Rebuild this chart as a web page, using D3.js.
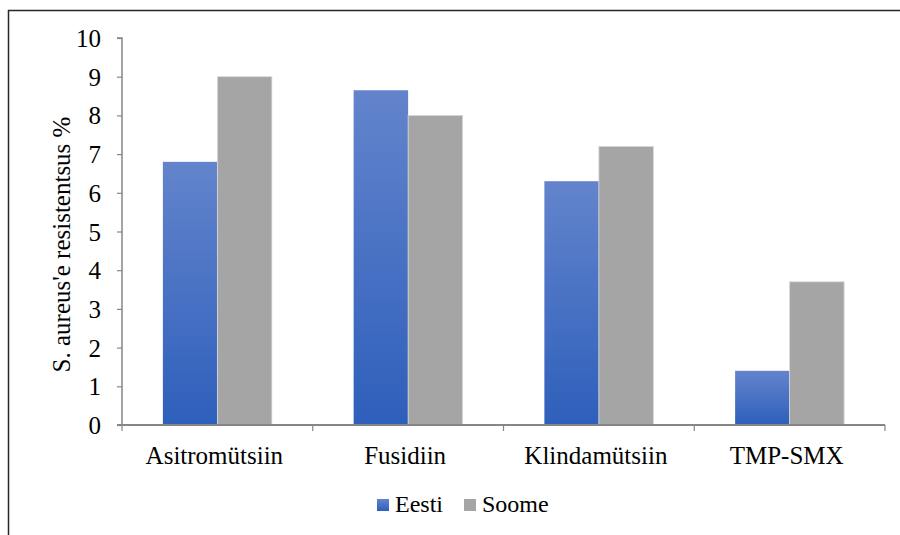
<!DOCTYPE html>
<html>
<head>
<meta charset="utf-8">
<script src="https://cdn.jsdelivr.net/npm/d3@7"></script>
</head>
<body style="margin:0">
<svg id="chart" width="900" height="535"></svg>
<script>
// Antibiotic resistance of S. aureus, Estonia vs Finland (%)
const categories = ["Asitromütsiin", "Fusidiin", "Klindamütsiin", "TMP-SMX"];
const seriesNames = ["Eesti", "Soome"];
const eestiValues = [6.8, 8.65, 6.3, 1.4];
const soomeValues = [9.0, 8.0, 7.2, 3.7];
const yTicks = [0, 1, 2, 3, 4, 5, 6, 7, 8, 9, 10];
const yTitle = "S. aureus'e resistentsus %";

const FONT = `"Liberation Serif"`;
const svg = d3.select("#chart");
const margin = { left: 122, right: 885, top: 38, bottom: 425 };

const x = d3.scaleBand().domain(categories).range([margin.left, margin.right]).padding(0);
const sub = d3.scaleBand().domain(seriesNames)
  .range([0, x.bandwidth()]).paddingInner(0).paddingOuter(0.75);
const y = d3.scaleLinear().domain([0, 10]).range([margin.bottom, margin.top]);

// gradients
const defs = svg.append("defs");
const blue = defs.append("linearGradient").attr("id", "blueGrad")
  .attr("x1", 0).attr("y1", 0).attr("x2", 0).attr("y2", 1);
blue.append("stop").attr("offset", "0%").attr("stop-color", "#6384cc");
blue.append("stop").attr("offset", "100%").attr("stop-color", "#2e5fbb");

// outer frame (top and left edges)
svg.append("line").attr("x1", 8).attr("x2", 900).attr("y1", 10.5).attr("y2", 10.5)
  .attr("stroke", "#262626").attr("stroke-width", 1.5);
svg.append("line").attr("x1", 8.5).attr("x2", 8.5).attr("y1", 10).attr("y2", 535)
  .attr("stroke", "#262626").attr("stroke-width", 1.5);

// bars
const rows = categories.map((c, i) => ({ cat: c, vals: [eestiValues[i], soomeValues[i]] }));
const groups = svg.append("g").selectAll("g").data(rows).join("g")
  .attr("transform", d => `translate(${x(d.cat)},0)`);
groups.selectAll("rect")
  .data(d => d.vals.map((v, j) => ({ key: seriesNames[j], v })))
  .join("rect")
  .attr("x", d => sub(d.key))
  .attr("width", sub.bandwidth())
  .attr("y", d => y(d.v))
  .attr("height", d => y(0) - y(d.v))
  .attr("fill", d => d.key === "Eesti" ? "url(#blueGrad)" : "#a5a5a5")
  .attr("stroke", d => d.key === "Eesti" ? "none" : "#d9d9d9")
  .attr("stroke-width", 0.8);

// y axis
const yAxis = svg.append("g").attr("transform", `translate(${margin.left},0)`)
  .call(d3.axisLeft(y).tickValues(yTicks).tickSize(5).tickPadding(16).tickFormat(d3.format("d")));
yAxis.select(".domain").attr("stroke", "#868686").attr("stroke-width", 1.5)
  .attr("d", `M-5,${margin.top}H0V${margin.bottom}`);
yAxis.selectAll(".tick line").attr("stroke", "#868686").attr("stroke-width", 1.2);
yAxis.selectAll(".tick text").attr("fill", "#000").attr("dy", "0.34em")
  .style("font-family", FONT).style("font-size", "25px");

// x axis with ticks on category boundaries
const xAxisG = svg.append("g").attr("transform", `translate(0,${margin.bottom})`);
xAxisG.append("line").attr("x1", margin.left - 5).attr("x2", margin.right)
  .attr("stroke", "#868686").attr("stroke-width", 1.8);
const bounds = categories.map(c => x(c)).concat([x(categories[categories.length - 1]) + x.bandwidth()]);
xAxisG.selectAll("line.tk").data(bounds).join("line").attr("class", "tk")
  .attr("x1", d => d).attr("x2", d => d).attr("y1", 0).attr("y2", 6)
  .attr("stroke", "#868686").attr("stroke-width", 1.2);
xAxisG.selectAll("text").data(categories).join("text")
  .attr("x", d => x(d) + x.bandwidth() / 2 - 3).attr("y", 39)
  .attr("text-anchor", "middle")
  .style("font-family", FONT).style("font-size", "25px")
  .text(d => d);

// y title
svg.append("text")
  .attr("transform", `translate(70,${(margin.top + margin.bottom) / 2 + 13}) rotate(-90)`)
  .attr("text-anchor", "middle")
  .style("font-family", FONT).style("font-size", "25px")
  .text(yTitle);

// legend
const legend = svg.append("g").attr("transform", "translate(377,499)");
const legendX = [0, 87];
seriesNames.forEach((s, i) => {
  const g = legend.append("g").attr("transform", `translate(${legendX[i]},0)`);
  g.append("rect").attr("width", 12).attr("height", 12)
    .attr("fill", s === "Eesti" ? "url(#blueGrad)" : "#a5a5a5");
  g.append("text").attr("x", 18).attr("y", 13)
    .style("font-family", FONT).style("font-size", "24px")
    .text(s);
});
</script>
</body>
</html>
